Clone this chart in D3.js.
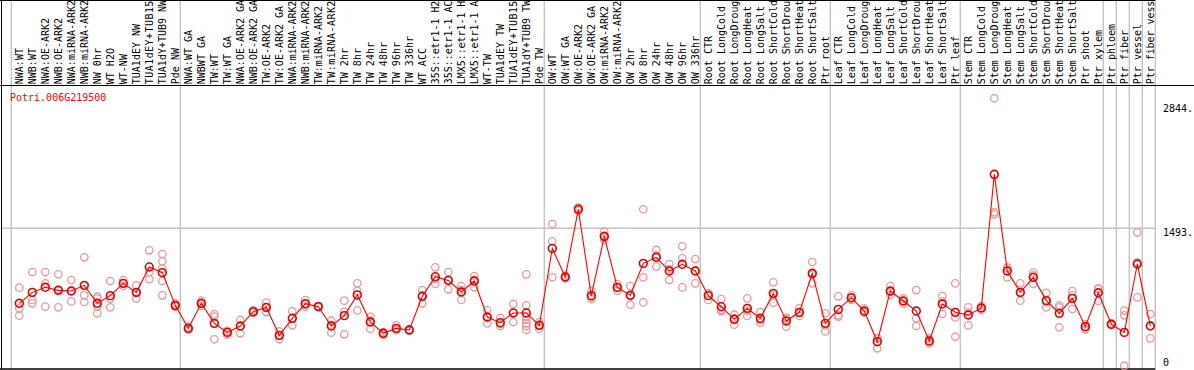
<!DOCTYPE html>
<html>
<head>
<meta charset="utf-8">
<script src="https://cdn.jsdelivr.net/npm/d3@7"></script>
<style>
  body { margin: 0; background: #fff; }
  svg { display: block; }
  text { font-family: "DejaVu Sans Mono", monospace; font-size: 10px; }
</style>
</head>
<body>
<svg id="chart" width="1194" height="370"></svg>
<script>
const gene = "Potri.006G219500";

const samples = [
    "NWA:WT", "NWB:WT", "NWA:OE-ARK2", "NWB:OE-ARK2", "NWA:miRNA-ARK2", "NWB:miRNA-ARK2",
    "NW 0hr", "WT H2O", "WT-NW", "TUA1dEY NW", "TUA1dEY+TUB15 NW", "TUA1dY+TUB9 NW", "Pde NW",
    "NWA:WT GA", "NWBWT GA", "TW:WT", "TW:WT GA", "NWA:OE-ARK2 GA", "NWB:OE-ARK2 GA",
    "TW:OE-ARK2", "TW:OE-ARK2 GA", "NWA:miRNA-ARK2 GA", "NWB:miRNA-ARK2 GA", "TW:miRNA-ARK2",
    "TW:miRNA-ARK2 GA", "TW 2hr", "TW 8hr", "TW 24hr", "TW 48hr", "TW 96hr", "TW 336hr", "WT ACC",
    "35S::etr1-1 H2O", "35S::etr1-1 ACC", "LMX5::etr1-1 H2O", "LMX5::etr1-1 ACC", "WT-TW",
    "TUA1dEY TW", "TUA1dEY+TUB15 TW", "TUA1dY+TUB9 TW", "Pde TW",
    "OW:WT", "OW:WT GA", "OW:OE-ARK2", "OW:OE-ARK2 GA", "OW:miRNA-ARK2", "OW:miRNA-ARK2 GA",
    "OW 2hr", "OW 8hr", "OW 24hr", "OW 48hr", "OW 96hr", "OW 336hr",
    "Root CTR", "Root LongCold", "Root LongDrought", "Root LongHeat", "Root LongSalt",
    "Root ShortCold", "Root ShortDrought", "Root ShortHeat", "Root ShortSalt", "Ptr root",
    "Leaf CTR", "Leaf LongCold", "Leaf LongDrought", "Leaf LongHeat", "Leaf LongSalt",
    "Leaf ShortCold", "Leaf ShortDrought", "Leaf ShortHeat", "Leaf ShortSalt", "Ptr leaf",
    "Stem CTR", "Stem LongCold", "Stem LongDrought", "Stem LongHeat", "Stem LongSalt",
    "Stem ShortCold", "Stem ShortDrought", "Stem ShortHeat", "Stem ShortSalt", "Ptr shoot",
    "Ptr xylem", "Ptr phloem", "Ptr fiber", "Ptr vessel", "Ptr fiber vessel"
];

// number of samples in each block between the grey separators
const groupSizes = [13, 28, 12, 10, 10, 11, 1, 1, 1, 1];

const means = [
    678, 797, 852, 819, 812, 873, 678, 761, 895, 797, 1073, 1011, 656,
    406, 678, 460, 362, 431, 587, 634, 330, 515, 674, 642, 431, 544, 769, 475, 352, 406, 388,
    754, 967, 927, 801, 920, 529, 468, 573, 573, 439,
    1275, 964, 1700, 761, 1406, 851, 765, 1112, 1178, 1029, 1102, 1029,
    761, 641, 504, 623, 515, 786, 486, 580, 1004, 460,
    612, 739, 594, 261, 812, 703, 594, 268, 670, 580,
    551, 627, 2080, 1029, 797, 960, 707, 569, 732, 424, 793, 450, 362, 1105, 431
];

const replicates = [
    [848, 623, 544], [1018, 714, 678], [1018, 895, 642], [993, 830, 634], [931, 812, 699],
    [1178, 765, 692], [750, 729, 642, 569], [920, 729, 634], [931, 866, 895], [873, 729, 797],
    [1254, 1018, 939], [1214, 1134, 1055, 920, 765], [678, 650, 640],
    [424, 395, 400], [707, 678, 650], [558, 533, 287], [380, 370, 337], [497, 431, 352],
    [605, 576, 580], [685, 634, 583], [373, 330, 287], [591, 515, 439], [714, 666, 642],
    [650, 642, 635], [489, 445, 359], [707, 585, 341], [895, 811, 601], [533, 490, 402],
    [366, 352, 337], [439, 390, 388], [395, 388, 381], [822, 762, 678], [1069, 944, 888],
    [1018, 933, 830], [866, 822, 714], [975, 933, 852], [605, 522, 460], [519, 454, 431],
    [671, 573, 475], [993, 656, 533, 497, 460, 431, 388], [475, 440, 402],
    [1540, 1352, 961], [980, 964, 948], [1720, 1700, 1680], [812, 746, 725], [1457, 1395, 1366],
    [888, 850, 815], [866, 765, 663], [1700, 960, 688], [1258, 1200, 1077], [1105, 1051, 931],
    [1297, 1167, 851], [1159, 1033, 895],
    [786, 783, 714], [725, 607, 591], [554, 512, 446], [732, 597, 540], [583, 495, 467],
    [906, 767, 685], [511, 523, 424], [627, 573, 540], [1127, 990, 895], [569, 438, 373],
    [754, 549, 533], [768, 735, 714], [623, 583, 576], [297, 297, 189], [866, 802, 768],
    [732, 703, 674], [822, 515, 431], [297, 264, 243], [757, 700, 562], [895, 525, 315],
    [634, 580, 438], [649, 627, 605], [2906, 1667, 1645], [1069, 1058, 960], [895, 790, 707],
    [1011, 981, 888], [793, 694, 634], [656, 634, 417], [812, 768, 616], [450, 427, 395],
    [841, 835, 703], [460, 450, 440], [598, 547, 0], [1449, 1123, 743], [562, 435, 297]
];

const yTicks = [2844, 1493];

const W = 1194, H = 370;
const plotRight = 1155.3, bottom = 369, headerY = 85;
const maxChars = 14; // the header only has room for this many characters

const svg = d3.select("#chart");

const x = d3.scaleBand()
    .domain(d3.range(samples.length))
    .range([11.3, plotRight])
    .padding(0);
const px = i => x(i) + 8;

const y = d3.scaleLinear()
    .domain([0, 2844])
    .range([365.7, 104]);

// grey separators between sample blocks
const starts = [];
let acc = 0;
groupSizes.forEach(n => { starts.push(acc); acc += n; });
const sepX = starts.map(s => x(s)).concat([plotRight]);

svg.append("g")
    .selectAll("line")
    .data(sepX)
    .enter()
    .append("line")
    .attr("x1", d => d).attr("x2", d => d)
    .attr("y1", 0).attr("y2", bottom)
    .attr("stroke", "#c4c4c4")
    .attr("stroke-width", 1.4);

// horizontal grid line at the middle tick
svg.append("line")
    .attr("x1", 2).attr("x2", plotRight)
    .attr("y1", y(1493)).attr("y2", y(1493))
    .attr("stroke", "#c4c4c4")
    .attr("stroke-width", 1.4);

// frame
svg.append("line").attr("x1", 1.5).attr("x2", 1.5).attr("y1", 0).attr("y2", bottom)
    .attr("stroke", "#000");
svg.append("line").attr("x1", 0).attr("x2", plotRight).attr("y1", 0.5).attr("y2", 0.5)
    .attr("stroke", "#000");
svg.append("line").attr("x1", 0).attr("x2", W).attr("y1", headerY + 0.5).attr("y2", headerY + 0.5)
    .attr("stroke", "#000");
svg.append("line").attr("x1", 0).attr("x2", plotRight).attr("y1", bottom).attr("y2", bottom)
    .attr("stroke", "#000").attr("stroke-width", 1.5);

// rotated sample names, cut to what the header shows
svg.append("g")
    .selectAll("text")
    .data(samples)
    .enter()
    .append("text")
    .attr("transform", (d, i) => `translate(${px(i) + 3.6},${headerY - 0.8}) rotate(-90)`)
    .attr("fill", "#000")
    .attr("textLength", d => d.length > maxChars ? 83.6 : null)
    .text(d => d.length > maxChars ? d.slice(0, maxChars) : d);

// gene id
svg.append("text")
    .attr("x", 10).attr("y", 100.5)
    .attr("fill", "#f00")
    .text(gene);

// right hand value labels
svg.append("g")
    .selectAll("text")
    .data(yTicks)
    .enter()
    .append("text")
    .attr("x", 1163)
    .attr("y", d => y(d) + 7.5)
    .attr("fill", "#000")
    .text(d => d + ".");
svg.append("text")
    .attr("x", 1163).attr("y", 366)
    .attr("fill", "#000")
    .text("0");

// replicate circles
const repPts = [];
replicates.forEach((reps, i) => reps.forEach(v => repPts.push({ i, v })));
svg.append("g")
    .selectAll("circle")
    .data(repPts)
    .enter()
    .append("circle")
    .attr("cx", d => px(d.i))
    .attr("cy", d => y(d.v))
    .attr("r", 3.7)
    .attr("fill", "none")
    .attr("stroke", "#eb9a9a")
    .attr("stroke-width", 1.3);

// mean line
const line = d3.line()
    .x((d, i) => px(i))
    .y(d => y(d));
svg.append("path")
    .datum(means)
    .attr("d", line)
    .attr("fill", "none")
    .attr("stroke", "#f00")
    .attr("stroke-width", 1.1);

// mean circles
svg.append("g")
    .selectAll("circle")
    .data(means)
    .enter()
    .append("circle")
    .attr("cx", (d, i) => px(i))
    .attr("cy", d => y(d))
    .attr("r", 3.9)
    .attr("fill", "none")
    .attr("stroke", "#e00000")
    .attr("stroke-width", 1.6);
</script>
</body>
</html>
